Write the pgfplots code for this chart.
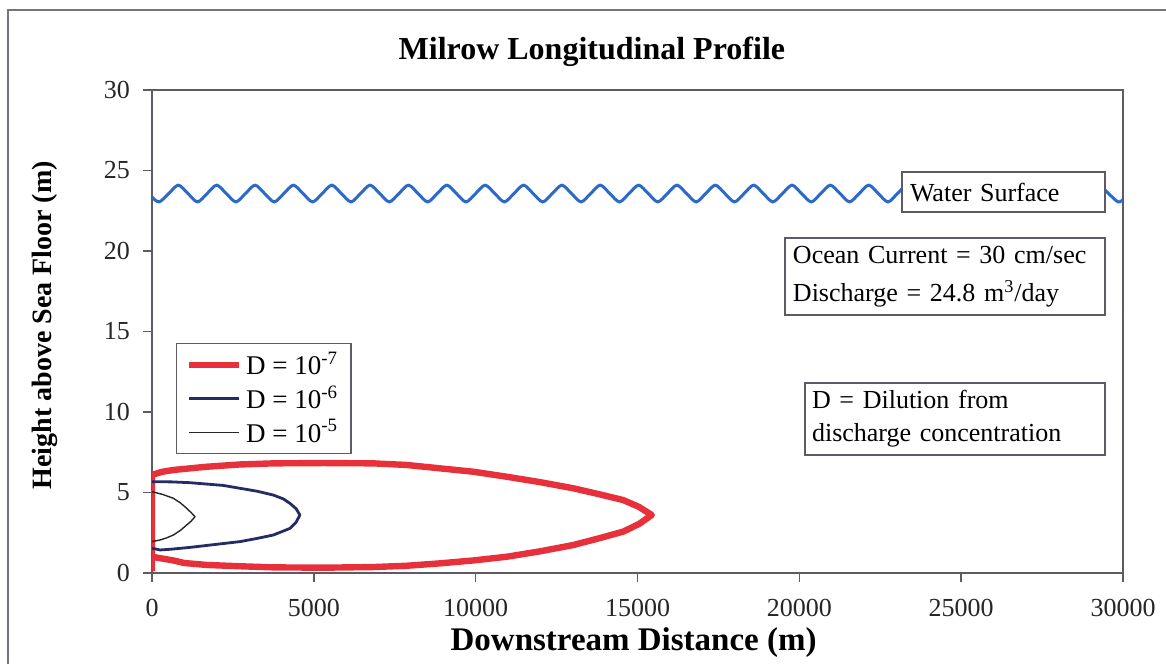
\documentclass[border=0pt]{standalone}
\usepackage{pgfplots}
\pgfplotsset{compat=1.18}
\usepackage{fontspec}
\setmainfont{Liberation Serif}
\definecolor{redc}{RGB}{232,48,58}
\definecolor{navyc}{RGB}{35,45,100}
\definecolor{wavec}{RGB}{45,105,200}
\definecolor{axc}{RGB}{95,90,100}
\definecolor{framec}{RGB}{120,115,125}
\begin{document}
\begin{tikzpicture}
\begin{axis}[
  at={(76pt,45.5pt)}, anchor=south west,
  scale only axis, width=485.5pt, height=241.5pt,
  xmin=0, xmax=30000, ymin=0, ymax=30,
  xtick={0,5000,...,30000}, ytick={0,5,...,30},
  scaled ticks=false,
  /pgf/number format/1000 sep={},
  /pgf/number format/assume math mode=true,
  tick label style={font=\fontsize{13}{15}\selectfont, text=black!85},
  xticklabel style={yshift=-5pt},
  yticklabel style={xshift=-3pt},
  tick pos=left, tick align=outside, major tick length=4.5pt,
  axis line style={axc, line width=0.8pt},
  major tick style={axc, line width=0.8pt},
  title={Milrow Longitudinal Profile},
  title style={font=\bfseries\fontsize{16}{18}\selectfont, at={(axis description cs:0.453,1.054)}, anchor=center, yshift=0pt},
  xlabel={Downstream Distance (m)},
  xlabel style={font=\bfseries\fontsize{16.5}{18}\selectfont, at={(axis description cs:0.496,-0.145)}, anchor=center},
  ylabel={Height above Sea Floor (m)},
  ylabel style={font=\bfseries\fontsize{14}{16}\selectfont, at={(axis description cs:-0.110,0.513)}, anchor=center},
  legend style={at={(axis description cs:0.0247,0.476)}, anchor=north west, draw=axc, line width=0.7pt,
    font=\fontsize{13.5}{15}\selectfont, inner xsep=4.5pt, inner ysep=2pt, row sep=0pt},
  legend cell align=left,
  legend image code/.code={\draw[#1] (0pt,0pt) -- (25pt,0pt);},
]
% water surface wave
\addplot[wavec, line width=1.5pt, smooth, forget plot] coordinates {
(0,23.35)
(222,23.05) (518,23.57) (814,24.09) (1110,23.57)
(1407,23.05) (1703,23.57) (1999,24.09) (2295,23.57)
(2592,23.05) (2888,23.57) (3184,24.09) (3480,23.57)
(3777,23.05) (4073,23.57) (4369,24.09) (4665,23.57)
(4962,23.05) (5258,23.57) (5554,24.09) (5850,23.57)
(6147,23.05) (6443,23.57) (6739,24.09) (7035,23.57)
(7332,23.05) (7628,23.57) (7924,24.09) (8220,23.57)
(8517,23.05) (8813,23.57) (9109,24.09) (9405,23.57)
(9702,23.05) (9998,23.57) (10294,24.09) (10590,23.57)
(10887,23.05) (11183,23.57) (11479,24.09) (11775,23.57)
(12072,23.05) (12368,23.57) (12664,24.09) (12960,23.57)
(13257,23.05) (13553,23.57) (13849,24.09) (14145,23.57)
(14442,23.05) (14738,23.57) (15034,24.09) (15330,23.57)
(15627,23.05) (15923,23.57) (16219,24.09) (16515,23.57)
(16812,23.05) (17108,23.57) (17404,24.09) (17700,23.57)
(17997,23.05) (18293,23.57) (18589,24.09) (18885,23.57)
(19182,23.05) (19478,23.57) (19774,24.09) (20070,23.57)
(20367,23.05) (20663,23.57) (20959,24.09) (21255,23.57)
(21552,23.05) (21848,23.57) (22144,24.09) (22440,23.57)
(22737,23.05) (23033,23.57) (23329,24.09) (23625,23.57)
(23922,23.05) (24218,23.57) (24514,24.09) (24810,23.57)
(25107,23.05) (25403,23.57) (25699,24.09) (25995,23.57)
(26292,23.05) (26588,23.57) (26884,24.09) (27180,23.57)
(27477,23.05) (27773,23.57) (28069,24.09) (28365,23.57)
(28662,23.05) (28958,23.57) (29254,24.09) (29550,23.57)
(29847,23.05) (30000,23.20)
};
% D = 1e-7
\addplot[redc, line width=3.2pt, line join=round] coordinates {
(0,0.1) (0,6.09) (300,6.28) (660,6.40) (1690,6.60) (2700,6.74) (3750,6.81) (5300,6.83) (6840,6.81)
(7870,6.71) (8900,6.50) (9930,6.29) (10960,5.98) (12000,5.64) (13020,5.26) (13800,4.90)
(14560,4.53) (15050,4.10) (15440,3.60) (15050,3.05) (14560,2.57) (13800,2.15) (13020,1.74)
(12000,1.35) (10960,1.01) (9930,0.78) (8900,0.60) (7870,0.45) (6840,0.37) (5300,0.33)
(3750,0.35) (2700,0.42) (1690,0.50) (1000,0.62) (660,0.78) (250,0.92) (0,1.01)
};
\addlegendentry{D = 10\textsuperscript{-7}}
% D = 1e-6
\addplot[navyc, line width=1.4pt, line join=round] coordinates {
(0,5.67) (600,5.66) (1170,5.61) (2200,5.44) (2720,5.26) (3250,5.08) (3750,4.84) (4060,4.60)
(4260,4.33) (4450,4.00) (4570,3.60) (4450,3.15) (4260,2.77) (3750,2.36) (3250,2.15) (2720,1.95)
(1900,1.76) (1170,1.59) (600,1.48) (250,1.43) (90,1.50) (0,1.52)
};
\addlegendentry{D = 10\textsuperscript{-6}}
% D = 1e-5
\addplot[black!85, line width=0.7pt, line join=round] coordinates {
(0,5.05) (330,4.88) (660,4.64) (880,4.35) (1070,4.02) (1210,3.75) (1330,3.50) (1210,3.22)
(1070,2.98) (880,2.65) (660,2.36) (450,2.18) (250,2.05) (0,1.95)
};
\addlegendentry{D = 10\textsuperscript{-5}}
\node[draw=axc, line width=0.7pt, fill=white, text width=93.5pt, inner xsep=4pt, inner ysep=0pt,
  minimum height=20pt, align=left, font=\fontsize{13}{15}\selectfont] at (axis cs:26308,23.66) {Water Surface};
\node[draw=axc, line width=0.7pt, fill=white, text width=152pt, inner xsep=4pt, inner ysep=0pt,
  minimum height=38.5pt, align=left, font=\fontsize{13}{19}\selectfont] at (axis cs:24500,18.42)
  {Ocean Current = 30 cm/sec\\Discharge = 24.8 m\textsuperscript{3}/day};
\node[draw=axc, line width=0.7pt, fill=white, text width=143pt, inner xsep=3.5pt, inner ysep=0pt,
  minimum height=36pt, align=left, font=\fontsize{13}{16.7}\selectfont] at (axis cs:24810,9.57)
  {D = Dilution from\\discharge concentration};
\end{axis}
\draw[framec, line width=0.8pt] (4pt,0pt) -- (4pt,327pt) -- (583pt,327pt);
\pgfresetboundingbox
\useasboundingbox (0pt,0pt) rectangle (583pt,332pt);
\end{tikzpicture}
\end{document}
